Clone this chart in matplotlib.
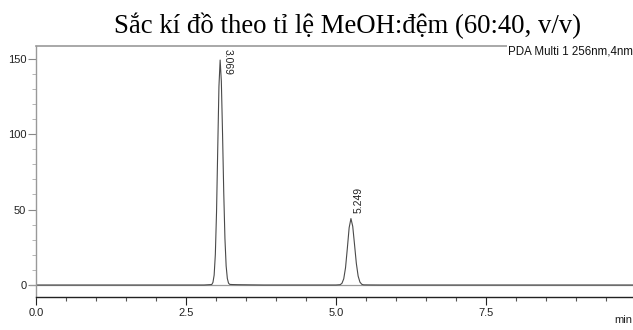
import matplotlib
matplotlib.use('Agg')
import matplotlib.pyplot as plt
from matplotlib.ticker import MultipleLocator

#%% Data
title = 'Sắc kí đồ theo tỉ lệ MeOH:đệm (60:40, v/v)'
detector_label = 'PDA Multi 1 256nm,4nm'

# retention time (min) and signal (mAU) of the trace
time_min = [0.0, 2.80, 2.929, 2.949, 2.969, 2.989, 3.009, 3.029, 3.049, 3.069,
            3.089, 3.109, 3.129, 3.149, 3.169, 3.189, 3.209, 3.229, 3.27, 3.37, 3.57, 3.80,
            5.00, 5.069, 5.099, 5.129, 5.159, 5.189, 5.219, 5.249, 5.279, 5.309, 5.339,
            5.369, 5.399, 5.429, 5.459, 5.55, 5.75, 10.0]
signal = [0.0, 0.0, 0.3, 1.7, 6.5, 20.2, 48.4, 90.4, 131.5, 149.0,
          135.0, 100.4, 61.3, 30.7, 12.6, 4.3, 1.2, 0.4, 0.3, 0.2, 0.1, 0.0,
          0.0, 0.2, 1.1, 4.1, 11.5, 24.3, 37.9, 44.0, 38.8, 26.7, 14.3,
          5.9, 1.9, 0.5, 0.1, 0.05, 0.0, 0.0]

peak_times = [3.069, 5.249]
peak_labels = ['3.069', '5.249']

#%% Plot
fig = plt.figure(figsize=(6.33, 3.30), dpi=100)
ax = fig.add_axes([36 / 633, 33 / 330, 600 / 633, 251 / 330])

ax.axhline(0, xmin=-0.01, xmax=1, color='#9a9a9a', lw=0.9, clip_on=False)
ax.plot(time_min, signal, color='#4a4a4a', lw=0.8)

# peak annotations
ax.text(peak_times[0] + 0.13, 156, peak_labels[0], rotation=-90, ha='center', va='top',
        fontsize=7.5, family='Liberation Sans', color='#222222')
ax.text(peak_times[1] + 0.13, 47.5, peak_labels[1], rotation=90, ha='center', va='bottom',
        fontsize=7.5, family='Liberation Sans', color='#222222')

ax.set_xlim(0, 10)
ax.set_ylim(-7.95, 158.3)

ax.xaxis.set_major_locator(MultipleLocator(2.5))
ax.xaxis.set_minor_locator(MultipleLocator(0.5))
ax.yaxis.set_major_locator(MultipleLocator(50))
ax.yaxis.set_minor_locator(MultipleLocator(10))
ax.set_xticks([0, 2.5, 5.0, 7.5])
ax.set_xticklabels(['0.0', '2.5', '5.0', '7.5'])

ax.tick_params(axis='x', which='major', length=6, width=0.8, color='#222222', pad=2,
               labelsize=8, labelcolor='#222222')
ax.tick_params(axis='x', which='minor', length=3, width=0.8, color='#555555')
ax.tick_params(axis='y', which='major', length=6, width=0.8, color='#888888', pad=1,
               labelsize=8, labelcolor='#222222')
ax.tick_params(axis='y', which='minor', length=3, width=0.6, color='#aaaaaa')
for lbl in ax.get_xticklabels() + ax.get_yticklabels():
    lbl.set_family('Liberation Sans')

ax.spines['right'].set_visible(False)
ax.spines['top'].set_color('#999999')
ax.spines['top'].set_linewidth(1.2)
ax.spines['left'].set_color('#999999')
ax.spines['left'].set_linewidth(1.0)
ax.spines['bottom'].set_color('#222222')
ax.spines['bottom'].set_linewidth(1.0)

ax.text(0.995, 1.0, detector_label, transform=ax.transAxes, ha='right', va='top',
        fontsize=8.3, family='Liberation Sans', color='#111111',
        bbox=dict(facecolor='white', edgecolor='none', pad=0.5))
fig.text(0.999, 0.015, 'min', ha='right', va='bottom', fontsize=8,
         family='Liberation Sans', color='#222222')
fig.text(348 / 633, 1 - 33 / 330, title, ha='center', va='baseline', fontsize=19.3,
         family='Liberation Serif', color='black')

fig.savefig('out.png', dpi=100, facecolor='white')
